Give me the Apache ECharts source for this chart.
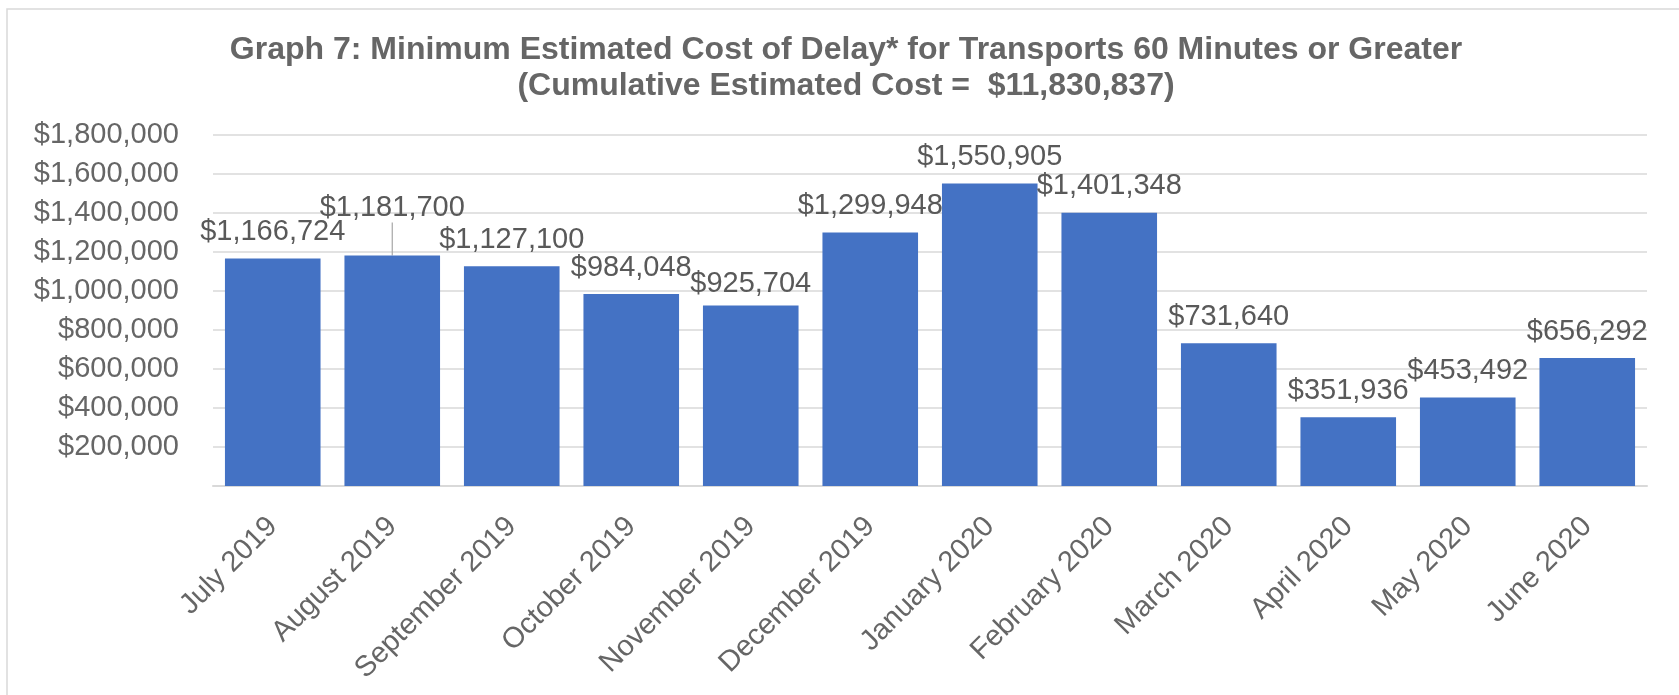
<!DOCTYPE html>
<html>
<head>
<meta charset="utf-8">
<script src="https://cdn.jsdelivr.net/npm/echarts@6/dist/echarts.min.js"></script>
<style>
html,body{margin:0;padding:0;background:#fff;}
#chart{width:1679px;height:695px;}
</style>
</head>
<body>
<div id="chart"></div>
<script>
var titleLine1 = 'Graph 7: Minimum Estimated Cost of Delay* for Transports 60 Minutes or Greater';
var titleLine2 = '(Cumulative Estimated Cost =  $11,830,837)';
var categories = ['July 2019','August 2019','September 2019','October 2019','November 2019','December 2019','January 2020','February 2020','March 2020','April 2020','May 2020','June 2020'];
var costs = [1166724, 1181700, 1127100, 984048, 925704, 1299948, 1550905, 1401348, 731640, 351936, 453492, 656292];
var yTicks = [0, 200000, 400000, 600000, 800000, 1000000, 1200000, 1400000, 1600000, 1800000];

function money(v){
  return '$' + String(Math.round(v)).replace(/\B(?=(\d{3})+(?!\d))/g, ',');
}

var chart = echarts.init(document.getElementById('chart'), null, {renderer:'canvas'});
var FONT = 'Liberation Sans, Arial, sans-serif';
var seriesData = costs.map(function(v, i){
  if (i === 1) return {value:v, labelLine:{show:true, lineStyle:{color:'#a6a6a6', width:1.2}}};
  return {value:v};
});
chart.setOption({
  animation: false,
  backgroundColor: '#ffffff',
  graphic: [
    {type:'rect', shape:{x:7, y:9, width:1700, height:720}, style:{fill:'none', stroke:'#d9d9d9', lineWidth:1.5}, silent:true},
    {type:'text', x:846, y:50, style:{text:titleLine1, textAlign:'center', textVerticalAlign:'middle', font:'bold 32px ' + FONT, fill:'#666666'}},
    {type:'text', x:846, y:86, style:{text:titleLine2, textAlign:'center', textVerticalAlign:'middle', font:'bold 32px ' + FONT, fill:'#666666'}}
  ],
  grid: {left:213, right:32, top:135, bottom:209, containLabel:false},
  xAxis: {
    type:'category',
    data: categories,
    axisLine:{show:true, lineStyle:{color:'#d9d9d9', width:2}},
    axisTick:{show:false},
    axisLabel:{rotate:45, interval:0, margin:36, fontSize:29, fontFamily:FONT, color:'#666666'}
  },
  yAxis: {
    type:'value',
    min:yTicks[0], max:yTicks[yTicks.length-1], interval:yTicks[1]-yTicks[0],
    axisLine:{show:false}, axisTick:{show:false},
    splitLine:{show:true, lineStyle:{color:'#d9d9d9', width:1.5}},
    axisLabel:{margin:34, fontSize:29, fontFamily:FONT, color:'#666666',
      formatter:function(v){ return v === 0 ? '' : money(v); }}
  },
  series: [{
    type:'bar',
    data: seriesData,
    barCategoryGap:'20%',
    itemStyle:{color:'#4472C4'},
    label:{show:true, position:'top', distance:12, fontSize:29, fontFamily:FONT, color:'#595959',
      formatter:function(p){ return money(p.value); }},
    labelLayout:function(p){
      if (p.dataIndex === 1) return {dy:-21};
      if (p.dataIndex === 4) return {dy:5};
      return {};
    },
    labelLine:{show:false}
  }]
});
</script>
</body>
</html>
